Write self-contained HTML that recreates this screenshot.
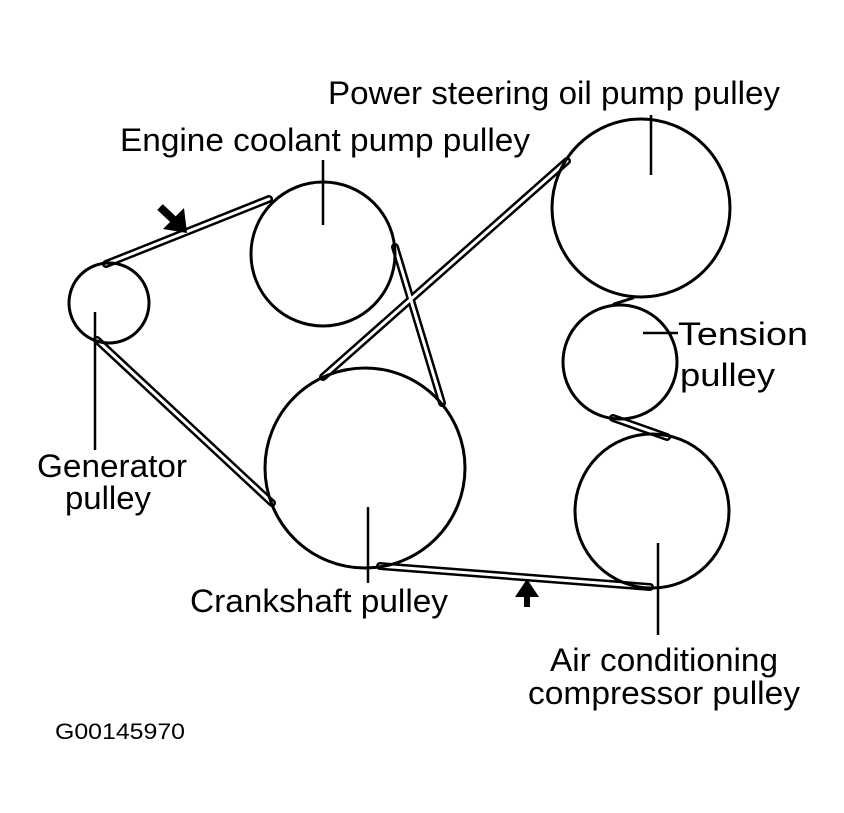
<!DOCTYPE html>
<html><head><style>
html,body{margin:0;padding:0;background:#fff;}
svg{display:block;}
text{font-family:"Liberation Sans",Arial,sans-serif;fill:#000;}
</style></head><body>
<svg width="844" height="813" viewBox="0 0 844 813" xmlns="http://www.w3.org/2000/svg">
<g stroke-linecap="round">
<g stroke="#000" stroke-width="8">
<line x1="106" y1="264" x2="269" y2="199"/>
<line x1="395" y1="247" x2="442" y2="403"/>
<line x1="323" y1="377" x2="567" y2="161"/>
<line x1="380" y1="566" x2="650" y2="587"/>
<line x1="97" y1="340" x2="272" y2="503"/>
<line x1="613" y1="418" x2="667" y2="437"/>
</g>
<g stroke="#fff" stroke-width="3">
<line x1="106" y1="264" x2="269" y2="199"/>
<line x1="395" y1="247" x2="442" y2="403"/>
<line x1="323" y1="377" x2="567" y2="161"/>
<line x1="613" y1="418" x2="667" y2="437"/>
<line x1="380" y1="566" x2="650" y2="587"/>
<line x1="97" y1="340" x2="272" y2="503"/>
</g>
<line x1="614" y1="304" x2="633" y2="298" stroke="#000" stroke-width="3"/>
</g>
<g fill="none" stroke="#000" stroke-width="3">
<circle cx="109" cy="303" r="40"/>
<circle cx="323" cy="254" r="72"/>
<circle cx="365" cy="468" r="100"/>
<circle cx="641" cy="208" r="89"/>
<circle cx="620" cy="362" r="57"/>
<circle cx="652" cy="511" r="77"/>
</g>
<g stroke="#000" stroke-width="2.5">
<line x1="651" y1="115" x2="651" y2="175"/>
<line x1="323" y1="160" x2="323" y2="225"/>
<line x1="95" y1="312" x2="95" y2="450"/>
<line x1="368" y1="507" x2="368" y2="583"/>
<line x1="643" y1="333" x2="678" y2="333"/>
<line x1="658" y1="543" x2="658" y2="635"/>
</g>
<line x1="160" y1="207" x2="177" y2="223" stroke="#000" stroke-width="8"/>
<polygon points="187,233 163,229 184,208" fill="#000"/>
<line x1="527" y1="592" x2="527" y2="607" stroke="#000" stroke-width="6"/>
<polygon points="527,579 515,597 539,597" fill="#000"/>
<g font-size="32">
<text x="328" y="104" textLength="452" lengthAdjust="spacingAndGlyphs">Power steering oil pump pulley</text>
<text x="120" y="151" textLength="410" lengthAdjust="spacingAndGlyphs">Engine coolant pump pulley</text>
<text x="37" y="477" textLength="150" lengthAdjust="spacingAndGlyphs">Generator</text>
<text x="65" y="509" textLength="86" lengthAdjust="spacingAndGlyphs">pulley</text>
<text x="190" y="612" textLength="258" lengthAdjust="spacingAndGlyphs">Crankshaft pulley</text>
<text x="678" y="345" textLength="130" lengthAdjust="spacingAndGlyphs">Tension</text>
<text x="680" y="386" textLength="95" lengthAdjust="spacingAndGlyphs">pulley</text>
<text x="550" y="671" textLength="228" lengthAdjust="spacingAndGlyphs">Air conditioning</text>
<text x="528" y="704" textLength="272" lengthAdjust="spacingAndGlyphs">compressor pulley</text>
</g>
<text x="55" y="739" font-size="22" textLength="130" lengthAdjust="spacingAndGlyphs">G00145970</text>
</svg>
</body></html>
